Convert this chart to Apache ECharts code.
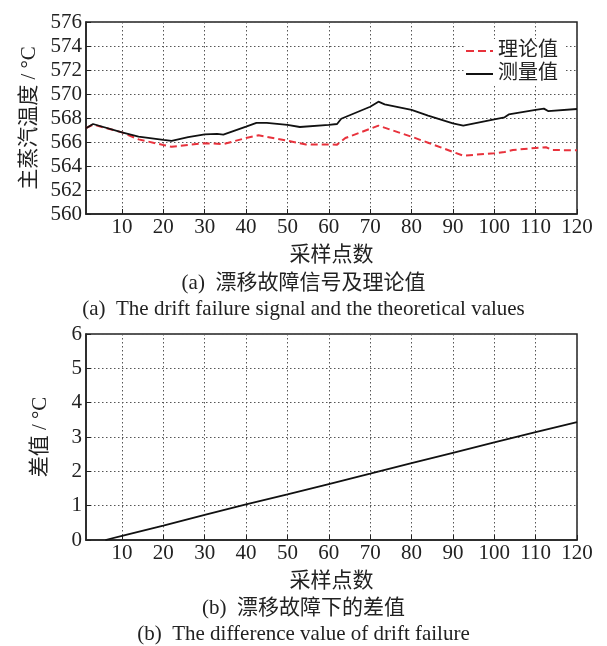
<!DOCTYPE html>
<html>
<head>
<meta charset="utf-8">
<script src="https://cdn.jsdelivr.net/npm/echarts@6/dist/echarts.min.js"></script>
<style>
  html, body { margin: 0; padding: 0; background: #fff; }
  #chart { width: 607px; height: 646px; }
</style>
</head>
<body>
<div id="chart"></div>
<script>
// values
const theoretical = [
  [1.3, 567.15], [3, 567.45], [10, 566.8], [14, 566.22], [20, 565.75], [22, 565.6],
  [30, 565.9], [34.5, 565.83], [40, 566.33], [43, 566.56], [50, 566.1], [54.5, 565.8],
  [62, 565.78], [64, 566.33], [72, 567.36], [80, 566.44], [84, 565.94], [92.5, 564.86],
  [100, 565.06], [102.5, 565.17], [104.5, 565.33], [110, 565.5], [112.5, 565.56],
  [114, 565.33], [120, 565.31]
]
const measured = [
  [1.3, 567.15], [3, 567.5], [10, 566.8], [14, 566.45], [20, 566.17], [22, 566.1],
  [26, 566.4], [30, 566.64], [33, 566.67], [34.5, 566.62], [40, 567.28], [42.5, 567.6],
  [45, 567.6], [50, 567.42], [53, 567.25], [60, 567.42], [62, 567.5], [63, 567.94],
  [70, 568.94], [72, 569.36], [73.5, 569.14], [80, 568.67], [84, 568.2], [90, 567.56],
  [92.5, 567.36], [100, 567.89], [102.5, 568.06], [103.5, 568.3], [110, 568.67],
  [112, 568.78], [113, 568.58], [120, 568.75]
]
const difference = [
  [6, 0], [10, 0.12], [20, 0.42], [30, 0.73], [40, 1.04], [50, 1.33], [60, 1.63],
  [70, 1.93], [80, 2.24], [90, 2.54], [100, 2.84], [110, 3.14], [120, 3.43]
]
const seriesNames = ['理论值', '测量值']
const xName = '采样点数'
const yNames = ['主蒸汽温度 / °C', '差值 / °C']
const captions = [
  '(a)  漂移故障信号及理论值',
  '(a)  The drift failure signal and the theoretical values',
  '(b)  漂移故障下的差值',
  '(b)  The difference value of drift failure'
]

const font = "'Liberation Serif', 'Noto Sans CJK SC', serif"
const ink = '#222'
const red = '#e8323c'

function xAxisFor(gridIndex) {
  return {
    type: 'value', gridIndex: gridIndex, min: 1.3, max: 120, splitNumber: 12,
    name: xName, nameLocation: 'middle', nameGap: 31,
    nameTextStyle: { fontFamily: font, fontSize: 21, color: ink },
    axisLine: { lineStyle: { color: ink, width: 1.5 } },
    axisTick: { inside: true, length: 5, lineStyle: { color: ink } },
    axisLabel: { showMinLabel: false, fontFamily: font, fontSize: 21, color: ink, margin: 3 },
    splitLine: { show: true, lineStyle: { color: '#555', type: [1.5, 2.5], width: 1 } }
  }
}
function yAxisFor(gridIndex, min, max, interval, name) {
  return {
    type: 'value', gridIndex: gridIndex, min: min, max: max, interval: interval,
    name: name, nameLocation: 'middle', nameGap: 35,
    nameTextStyle: { fontFamily: font, fontSize: 21, color: ink },
    axisLine: { lineStyle: { color: ink, width: 1.5 } },
    axisTick: { inside: true, length: 5, lineStyle: { color: ink } },
    axisLabel: { fontFamily: font, fontSize: 21, color: ink, margin: 4 },
    splitLine: { show: true, lineStyle: { color: '#555', type: [1.5, 2.5], width: 1 } }
  }
}

const chart = echarts.init(document.getElementById('chart'))
chart.setOption({
  animation: false,
  backgroundColor: '#fff',
  grid: [
    { left: 86, top: 22, width: 491, height: 192, show: true, borderColor: ink, borderWidth: 1.5 },
    { left: 86, top: 334, width: 491, height: 206, show: true, borderColor: ink, borderWidth: 1.5 }
  ],
  xAxis: [xAxisFor(0), xAxisFor(1)],
  yAxis: [
    yAxisFor(0, 560, 576, 2, yNames[0]),
    yAxisFor(1, 0, 6, 1, yNames[1])
  ],
  legend: {
    orient: 'vertical', left: 464, top: 39,
    itemWidth: 27, itemHeight: 2, itemGap: 3,
    backgroundColor: '#fff', padding: [2, 8, 2, 2],
    textStyle: { fontFamily: font, fontSize: 20, color: ink },
    data: [
      { name: seriesNames[0], icon: 'path://M0,0h8v2h-8z M12,0h8v2h-8z M24,0h3v2h-3z', itemStyle: { color: red } },
      { name: seriesNames[1], icon: 'rect', itemStyle: { color: '#111' } }
    ]
  },
  series: [
    {
      name: seriesNames[0], type: 'line', xAxisIndex: 0, yAxisIndex: 0,
      data: theoretical, symbol: 'none', z: 2,
      lineStyle: { color: red, width: 2, type: [7, 4] },
      itemStyle: { color: red }
    },
    {
      name: seriesNames[1], type: 'line', xAxisIndex: 0, yAxisIndex: 0,
      data: measured, symbol: 'none', z: 3,
      lineStyle: { color: '#111', width: 1.8 },
      itemStyle: { color: '#111' }
    },
    {
      name: 'diff', type: 'line', xAxisIndex: 1, yAxisIndex: 1,
      data: difference, symbol: 'none',
      lineStyle: { color: '#111', width: 1.8 },
      itemStyle: { color: '#111' }
    }
  ],
  graphic: [
    { type: 'text', left: 'center', top: 273, style: { text: captions[0], font: '21px ' + font, fill: ink } },
    { type: 'text', left: 'center', top: 299, style: { text: captions[1], font: '21px ' + font, fill: ink } },
    { type: 'text', left: 'center', top: 598, style: { text: captions[2], font: '21px ' + font, fill: ink } },
    { type: 'text', left: 'center', top: 624, style: { text: captions[3], font: '21px ' + font, fill: ink } }
  ]
})
</script>
</body>
</html>
